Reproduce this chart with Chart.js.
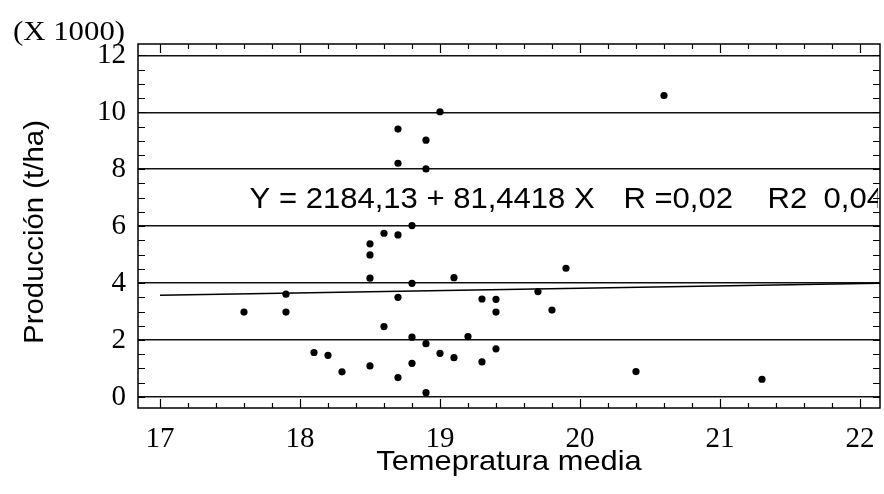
<!DOCTYPE html>
<html>
<head>
<meta charset="utf-8">
<script src="https://cdn.jsdelivr.net/npm/chart.js@4.4.0/dist/chart.umd.min.js"></script>
<style>
  html, body { margin: 0; padding: 0; background: #fff; }
  #wrap { width: 884px; height: 494px; }
</style>
</head>
<body>
<div id="wrap"><canvas id="chart"></canvas></div>
<script>
// Temperatura media (x) and Producción in thousands t/ha (y)
const tempX = [17.6, 17.9, 17.9, 18.1, 18.2, 18.3, 18.5, 18.5, 18.5, 18.5,
               18.6, 18.6, 18.7, 18.7, 18.7, 18.7, 18.7, 18.8, 18.8, 18.8,
               18.8, 18.9, 18.9, 18.9, 18.9, 19.0, 19.0, 19.1, 19.1, 19.2,
               19.3, 19.3, 19.4, 19.4, 19.4, 19.7, 19.8, 19.9, 20.4, 20.6, 21.3];
const prodY = [2.98, 3.61, 2.98, 1.56, 1.46, 0.88, 5.38, 4.99, 4.17, 1.09,
               5.75, 2.47, 9.41, 8.21, 5.69, 3.50, 0.68, 6.02, 3.99, 2.10,
               1.18, 9.02, 8.01, 1.87, 0.15, 10.02, 1.53, 4.19, 1.38, 2.12,
               3.44, 1.23, 3.43, 2.98, 1.69, 3.70, 3.05, 4.52, 0.89, 10.59, 0.62];

// fitted line Y = 2184,13 + 81,4418 X (in thousands)
const fitX = [17, 22.14];
const fitY = [3.57, 3.99];

const xTicks = [17, 18, 19, 20, 21, 22];
const yTicks = [0, 2, 4, 6, 8, 10, 12];

const eqParts = ['Y = 2184,13 + 81,4418 X', 'R =0,02', 'R2', '0,04'];
const xTitle = 'Temepratura media';
const yTitle = 'Producción (t/ha)';
const yUnit = '(X 1000)';

const points = tempX.map((x, i) => ({ x: x, y: prodY[i] }));
const fitLine = fitX.map((x, i) => ({ x: x, y: fitY[i] }));

// text a bit wider than the font, like the scanned original
function wideText(ctx, t, x, y, sx) {
  ctx.save();
  ctx.translate(x, y);
  ctx.scale(sx, 1);
  ctx.fillText(t, 0, 0);
  ctx.restore();
}

const frame = {
  id: 'frame',
  afterDatasetsDraw(chart) {
    const ctx = chart.ctx;
    const a = chart.chartArea;
    const xs = chart.scales.x, ys = chart.scales.y;
    ctx.save();

    // regression equation, cut at the frame like the original
    ctx.save();
    ctx.beginPath();
    ctx.rect(a.left, a.top, a.right - a.left - 2, a.bottom - a.top);
    ctx.clip();
    ctx.fillStyle = '#000';
    ctx.font = '29px "Liberation Sans", Arial, sans-serif';
    ctx.textBaseline = 'alphabetic';
    ctx.textAlign = 'left';
    const eqX = [17.64, 20.31, 21.34, 21.74];
    const eqY = ys.getPixelForValue(6.64);
    eqParts.forEach((t, i) => wideText(ctx, t, xs.getPixelForValue(eqX[i]), eqY, 1.07));
    ctx.restore();

    ctx.strokeStyle = '#000';
    ctx.lineWidth = 1.5;
    ctx.strokeRect(a.left, a.top, a.right - a.left, a.bottom - a.top);

    // inward ticks, x every 0.2
    ctx.lineWidth = 1.2;
    for (let k = 0; k <= 25; k++) {
      const v = 17 + k * 0.2;
      const px = Math.round(xs.getPixelForValue(v)) + 0.5;
      const len = (k % 5 === 0) ? 9 : 5;
      ctx.beginPath();
      ctx.moveTo(px, a.bottom); ctx.lineTo(px, a.bottom - len);
      ctx.moveTo(px, a.top); ctx.lineTo(px, a.top + len);
      ctx.stroke();
    }
    // y every 0.5
    for (let k = 0; k <= 24; k++) {
      const py = Math.round(ys.getPixelForValue(k * 0.5)) + 0.5;
      ctx.beginPath();
      ctx.moveTo(a.left, py); ctx.lineTo(a.left + 7, py);
      ctx.moveTo(a.right, py); ctx.lineTo(a.right - 7, py);
      ctx.stroke();
    }

    // axis titles
    ctx.fillStyle = '#000';
    ctx.font = '28px "Liberation Sans", Arial, sans-serif';
    ctx.textAlign = 'center';
    ctx.textBaseline = 'middle';
    wideText(ctx, xTitle, (a.left + a.right) / 2, 462, 1.1);
    ctx.save();
    ctx.translate(35, 232);
    ctx.rotate(-Math.PI / 2);
    wideText(ctx, yTitle, 0, 0, 1.05);
    ctx.restore();

    ctx.font = '28px "Liberation Serif", "Times New Roman", serif';
    ctx.textAlign = 'left';
    ctx.textBaseline = 'alphabetic';
    wideText(ctx, yUnit, 13, 40, 1.1);
    ctx.restore();
  }
};

const ctx = document.getElementById('chart').getContext('2d');
new Chart(ctx, {
  type: 'scatter',
  data: {
    datasets: [
      {
        label: 'fit',
        data: fitLine,
        showLine: true,
        borderColor: '#000',
        borderWidth: 1.5,
        pointRadius: 0
      },
      {
        label: 'Producción',
        data: points,
        backgroundColor: '#000',
        borderColor: '#000',
        pointStyle: 'circle',
        pointRadius: 3.6,
        borderWidth: 0
      }
    ]
  },
  options: {
    responsive: true,
    maintainAspectRatio: false,
    animation: false,
    layout: { padding: { left: 0, right: 4, top: 44, bottom: 0 } },
    plugins: { legend: { display: false }, tooltip: { enabled: false } },
    scales: {
      x: {
        type: 'linear',
        min: 16.843,
        max: 22.143,
        afterBuildTicks: s => { s.ticks = xTicks.map(v => ({ value: v })); },
        afterFit: s => { s.height = 86; s.paddingLeft = 0; s.paddingRight = 0; },
        grid: { display: false, drawTicks: false },
        border: { display: false },
        ticks: {
          padding: 14,
          color: '#000',
          font: { family: '"Liberation Serif", "Times New Roman", serif', size: 29 }
        }
      },
      y: {
        type: 'linear',
        min: -0.39,
        max: 12.4,
        afterBuildTicks: s => { s.ticks = yTicks.map(v => ({ value: v })); },
        afterFit: s => { s.width = 138; s.paddingTop = 0; s.paddingBottom = 0; },
        grid: { color: '#111', lineWidth: 1.5, drawTicks: false },
        border: { display: false },
        ticks: {
          padding: 12,
          color: '#000',
          font: { family: '"Liberation Serif", "Times New Roman", serif', size: 29 }
        }
      }
    }
  },
  plugins: [frame]
});
</script>
</body>
</html>
